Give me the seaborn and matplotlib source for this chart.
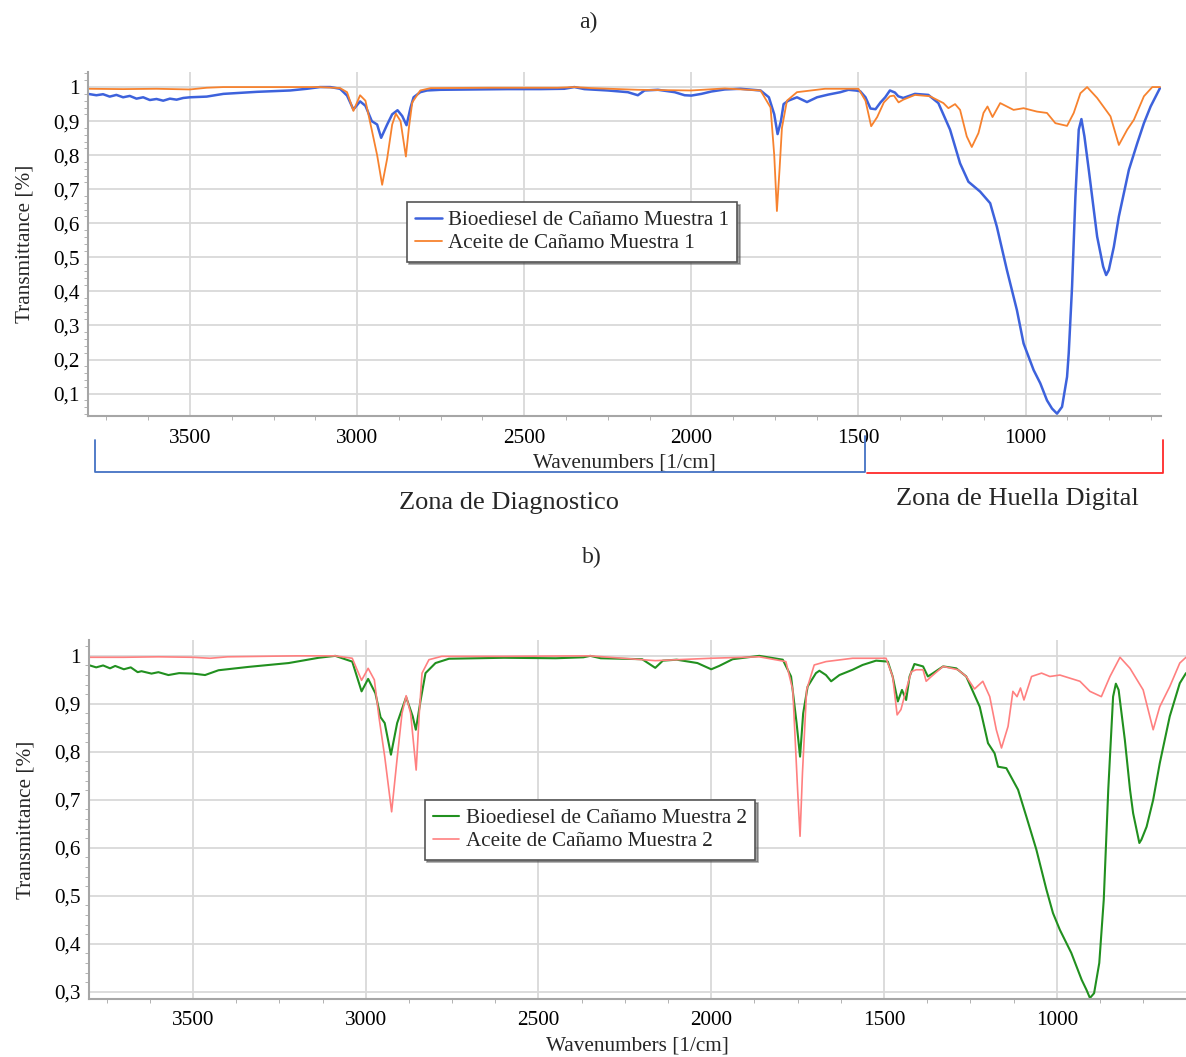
import pandas as pd
import matplotlib
matplotlib.use("Agg")
import matplotlib.pyplot as plt
import seaborn as sns
from matplotlib.ticker import MultipleLocator, AutoMinorLocator, FuncFormatter

# ---- panel a) ----
bio1_wn = [3805, 3780, 3760, 3740, 3720, 3700, 3680, 3660, 3640, 3620, 3600, 3580, 3560, 3540,
           3520, 3500, 3450, 3400, 3300, 3200, 3150, 3111, 3080, 3051, 3030, 3011, 2991, 2975,
           2956, 2940, 2928, 2910, 2895, 2879, 2865, 2852, 2840, 2831, 2811, 2791, 2751, 2650,
           2550, 2450, 2380, 2350, 2320, 2250, 2190, 2160, 2140, 2100, 2050, 2020, 2000, 1970,
           1940, 1900, 1853, 1793, 1768, 1752, 1742, 1732, 1724, 1710, 1684, 1654, 1624, 1590,
           1554, 1530, 1509, 1495, 1479, 1464, 1449, 1434, 1420, 1406, 1391, 1381, 1366, 1331,
           1291, 1261, 1226, 1196, 1171, 1136, 1106, 1086, 1056, 1026, 1006, 976, 956, 936,
           921, 906, 891, 876, 871, 861, 851, 841, 833, 824, 811, 786, 768, 759, 751, 736,
           721, 691, 666, 646, 626, 598]
bio1_t = [0.980, 0.976, 0.979, 0.972, 0.977, 0.970, 0.974, 0.966, 0.970, 0.962, 0.965, 0.960, 0.966, 0.963,
          0.968, 0.970, 0.972, 0.980, 0.986, 0.990, 0.995, 1.000, 1.000, 0.995, 0.975, 0.934, 0.958, 0.945,
          0.900, 0.890, 0.851, 0.890, 0.920, 0.932, 0.915, 0.888, 0.940, 0.970, 0.985, 0.990, 0.992, 0.993,
          0.994, 0.994, 0.995, 1.000, 0.994, 0.990, 0.985, 0.976, 0.990, 0.992, 0.985, 0.976, 0.975, 0.980,
          0.987, 0.993, 0.995, 0.990, 0.970, 0.920, 0.862, 0.900, 0.950, 0.960, 0.970, 0.956, 0.970, 0.978,
          0.985, 0.992, 0.990, 0.988, 0.970, 0.937, 0.935, 0.955, 0.970, 0.990, 0.984, 0.973, 0.968, 0.980,
          0.977, 0.953, 0.875, 0.776, 0.722, 0.693, 0.659, 0.590, 0.463, 0.345, 0.247, 0.169, 0.130, 0.080,
          0.056, 0.041, 0.061, 0.149, 0.218, 0.414, 0.678, 0.875, 0.906, 0.855, 0.757, 0.561, 0.473, 0.448, 0.463, 0.531,
          0.620, 0.757, 0.835, 0.894, 0.943, 0.997]

oil1_wn = [3805, 3700, 3600, 3500, 3450, 3400, 3200, 3111, 3051, 3030, 3011, 2991, 2975, 2956,
           2940, 2925, 2910, 2895, 2884, 2870, 2854, 2845, 2835, 2811, 2780, 2600, 2400, 2350,
           2300, 2160, 2000, 1900, 1793, 1763, 1752, 1744, 1736, 1729, 1714, 1684, 1600, 1500,
           1479, 1462, 1444, 1424, 1406, 1394, 1380, 1366, 1331, 1286, 1246, 1231, 1211, 1196,
           1176, 1161, 1141, 1126, 1114, 1099, 1076, 1036, 1006, 966, 936, 911, 876, 856, 836,
           816, 786, 746, 721, 696, 676, 646, 621, 598]
oil1_t = [0.995, 0.994, 0.995, 0.993, 0.998, 1.000, 1.000, 1.000, 0.997, 0.985, 0.930, 0.976, 0.960, 0.874,
          0.800, 0.713, 0.790, 0.890, 0.922, 0.900, 0.796, 0.880, 0.955, 0.990, 0.997, 0.998, 0.998, 1.000,
          0.997, 0.992, 0.990, 0.996, 0.990, 0.940, 0.800, 0.636, 0.760, 0.880, 0.960, 0.985, 0.995, 0.995,
          0.960, 0.885, 0.912, 0.955, 0.973, 0.975, 0.955, 0.963, 0.977, 0.973, 0.953, 0.938, 0.950, 0.933,
          0.855, 0.824, 0.865, 0.924, 0.943, 0.912, 0.953, 0.933, 0.938, 0.928, 0.924, 0.894, 0.886, 0.924, 0.982,
          1.000, 0.968, 0.914, 0.830, 0.875, 0.904, 0.973, 1.000, 1.000]

# ---- panel b) ----
bio2_wn = [3803, 3780, 3760, 3740, 3725, 3700, 3680, 3660, 3649, 3620, 3600, 3571, 3540, 3500,
           3465, 3426, 3339, 3223, 3136, 3088, 3068, 3039, 3012, 2993, 2972, 2957, 2945, 2927,
           2909, 2883, 2864, 2855, 2841, 2827, 2798, 2759, 2600, 2450, 2370, 2350, 2320, 2200,
           2162, 2140, 2100, 2040, 2000, 1977, 1938, 1861, 1793, 1769, 1753, 1743, 1734, 1721,
           1697, 1687, 1668, 1653, 1629, 1591, 1562, 1523, 1489, 1475, 1460, 1448, 1436, 1426,
           1412, 1387, 1373, 1358, 1329, 1291, 1262, 1223, 1199, 1180, 1170, 1146, 1112, 1088,
           1059, 1030, 1011, 991, 958, 928, 914, 904, 892, 877, 864, 851, 837, 829, 821, 803,
           788, 779, 761, 755, 740, 721, 702, 673, 644, 626]
bio2_t = [0.981, 0.976, 0.980, 0.974, 0.979, 0.972, 0.976, 0.966, 0.968, 0.963, 0.966, 0.960, 0.964, 0.963,
          0.960, 0.970, 0.977, 0.985, 0.996, 1.000, 0.995, 0.988, 0.926, 0.952, 0.922, 0.872, 0.860, 0.794,
          0.860, 0.914, 0.874, 0.846, 0.908, 0.964, 0.985, 0.994, 0.996, 0.995, 0.997, 1.000, 0.995, 0.993,
          0.975, 0.990, 0.992, 0.985, 0.972, 0.979, 0.993, 1.000, 0.992, 0.957, 0.860, 0.790, 0.880, 0.936,
          0.964, 0.969, 0.960, 0.947, 0.960, 0.971, 0.981, 0.990, 0.988, 0.957, 0.905, 0.929, 0.908, 0.957,
          0.983, 0.978, 0.957, 0.964, 0.978, 0.974, 0.957, 0.894, 0.818, 0.797, 0.769, 0.766, 0.721, 0.665,
          0.596, 0.513, 0.464, 0.429, 0.381, 0.325, 0.304, 0.287, 0.297, 0.360, 0.492, 0.721, 0.915, 0.942, 0.929, 0.825,
          0.721, 0.672, 0.610, 0.617, 0.644, 0.700, 0.776, 0.874, 0.943, 0.964]

oil2_wn = [3803, 3700, 3600, 3500, 3450, 3400, 3200, 3088, 3039, 3012, 2993, 2975, 2962, 2945,
           2925, 2910, 2895, 2883, 2870, 2854, 2845, 2837, 2817, 2780, 2600, 2350, 2162, 2000,
           1861, 1784, 1764, 1750, 1743, 1736, 1724, 1702, 1668, 1591, 1494, 1475, 1462, 1451,
           1436, 1421, 1407, 1387, 1378, 1363, 1329, 1286, 1262, 1238, 1214, 1194, 1175, 1160,
           1141, 1127, 1115, 1105, 1095, 1073, 1044, 1020, 991, 933, 904, 871, 846, 817, 788,
           750, 721, 702, 673, 644, 626]
oil2_t = [0.997, 0.997, 0.998, 0.997, 0.995, 0.998, 1.000, 1.000, 0.995, 0.949, 0.974, 0.950, 0.874, 0.790,
          0.675, 0.780, 0.880, 0.917, 0.880, 0.762, 0.880, 0.964, 0.992, 0.999, 0.999, 1.000, 0.990, 0.995,
          0.998, 0.988, 0.929, 0.720, 0.624, 0.756, 0.929, 0.981, 0.988, 0.995, 0.995, 0.957, 0.877, 0.888,
          0.929, 0.967, 0.971, 0.971, 0.947, 0.957, 0.978, 0.971, 0.957, 0.931, 0.947, 0.915, 0.846, 0.808,
          0.853, 0.926, 0.915, 0.933, 0.908, 0.957, 0.964, 0.957, 0.960, 0.947, 0.926, 0.915, 0.957, 0.997, 0.974,
          0.929, 0.846, 0.894, 0.936, 0.985, 0.997]

sns.set_style("ticks")
plt.rcParams["font.family"] = "serif"
plt.rcParams["font.serif"] = ["Liberation Serif", "DejaVu Serif"]

FS = 15.3


def comma(v, _):
    if abs(v - 1) < 1e-9:
        return "1"
    return f"{v:.1f}".replace(".", ",")


def style_axes(ax, xlim, ylim):
    ax.set_xlim(*xlim)
    ax.set_ylim(*ylim)
    ax.xaxis.set_major_locator(MultipleLocator(500))
    ax.xaxis.set_minor_locator(MultipleLocator(125))
    ax.yaxis.set_major_locator(MultipleLocator(0.1))
    ax.yaxis.set_minor_locator(AutoMinorLocator(5))
    ax.yaxis.set_major_formatter(FuncFormatter(comma))
    ax.grid(True, which="major", color="#d9d9d9", linewidth=1.3)
    ax.set_axisbelow(True)
    for s in ["top", "right"]:
        ax.spines[s].set_visible(False)
    for s in ["left", "bottom"]:
        ax.spines[s].set_color("#a6a6a6")
        ax.spines[s].set_linewidth(1.5)
    ax.tick_params(which="both", colors="#a6a6a6", labelcolor="black", labelsize=FS, length=3)
    ax.tick_params(axis="x", which="major", length=0, pad=9)
    ax.tick_params(axis="y", which="major", length=0, pad=6)
    ax.set_xlabel("Wavenumbers [1/cm]", fontsize=FS, labelpad=4)
    ax.set_ylabel("Transmittance [%]", fontsize=FS, labelpad=13)


fig = plt.figure(figsize=(11.86, 10.57), dpi=100)
ax1 = fig.add_axes([0.0742, 0.6064, 0.9047, 0.3254])
ax2 = fig.add_axes([0.075, 0.0549, 0.925, 0.3396])

sns.lineplot(x=bio1_wn, y=bio1_t, ax=ax1, color="#3d62dc", linewidth=1.8,
             label="Bioediesel de Cañamo Muestra 1", estimator=None)
sns.lineplot(x=oil1_wn, y=oil1_t, ax=ax1, color="#f7822e", linewidth=1.3,
             label="Aceite de Cañamo Muestra 1", estimator=None)
style_axes(ax1, (3805, 595), (0.034, 1.044))

sns.lineplot(x=bio2_wn, y=bio2_t, ax=ax2, color="#21901f", linewidth=1.5,
             label="Bioediesel de Cañamo Muestra 2", estimator=None)
sns.lineplot(x=oil2_wn, y=oil2_t, ax=ax2, color="#ff8080", linewidth=1.2,
             label="Aceite de Cañamo Muestra 2", estimator=None)
style_axes(ax2, (3801, 626), (0.285, 1.033))

for ax, anchor in [(ax1, (0.297, 0.622)), (ax2, (0.306, 0.554))]:
    leg = ax.legend(loc="upper left", bbox_to_anchor=anchor, borderaxespad=0,
                    fontsize=15.2, frameon=True, fancybox=False, shadow=True,
                    framealpha=1, handlelength=1.25, handletextpad=0.3,
                    borderpad=0.4, labelspacing=0.15)
    leg.get_frame().set_edgecolor("#555555")
    leg.get_frame().set_linewidth(1.2)

# zone brackets under panel a)
tr = ax1.get_xaxis_transform()
ax1.plot([3784, 3784, 1479, 1479], [-0.07, -0.163, -0.163, -0.058], transform=tr,
         color="#4472c4", linewidth=1.3, clip_on=False)
ax1.plot([1473, 590, 590], [-0.166, -0.166, -0.07], transform=tr,
         color="#ff2a2a", linewidth=1.3, clip_on=False)

fig.text(0.429, 0.524, "Zona de Diagnostico", ha="center", va="center", fontsize=19)
fig.text(0.8575, 0.528, "Zona de Huella Digital", ha="center", va="center", fontsize=19)
fig.text(0.4958, 0.979, "a)", ha="center", va="center", fontsize=17)
fig.text(0.499, 0.473, "b)", ha="center", va="center", fontsize=17)

fig.savefig("out.png", dpi=100)
